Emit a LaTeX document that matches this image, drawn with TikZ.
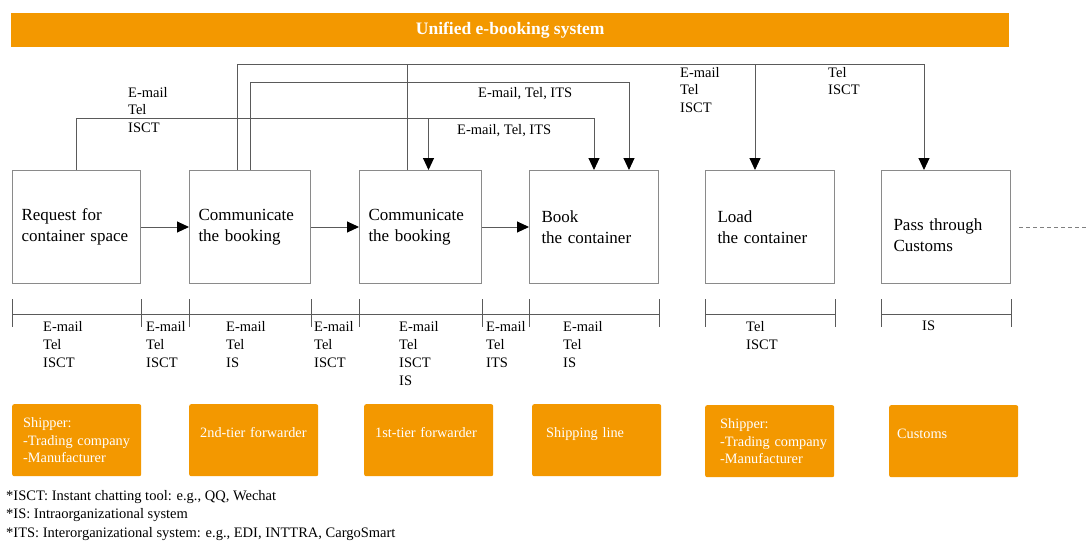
\documentclass[tikz,border=0pt]{standalone}
\usepackage{fontspec}
\setmainfont{Liberation Serif}
\usetikzlibrary{arrows.meta,positioning}
\definecolor{booking}{HTML}{F39800}
\definecolor{frame}{HTML}{8A8A8A}
\definecolor{wire}{HTML}{5A5A5A}

\begin{document}
\begin{tikzpicture}[x=1pt,y=-1pt,
    stage/.style={draw=frame, line width=1pt, align=left, inner xsep=9pt, text width=#1,
        minimum height=113pt, anchor=north west, font=\fontsize{17}{21}\selectfont},
    actor/.style={fill=booking, rounded corners=2pt, align=left, inner xsep=11pt, text width=107pt,
        minimum height=72pt, anchor=north west, text=white, font=\fontsize{14.3}{17.5}\selectfont},
    single/.style={text depth=15pt},
    media/.style={align=left, inner sep=0pt, anchor=north west, font=\fontsize{14.5}{18}\selectfont},
    flow/.style={draw=wire, line width=1pt, -{Triangle[length=12pt,width=11pt,color=black]}},
    link/.style={draw=wire, line width=1pt},
    tick/.style={draw=wire, line width=0.9pt}]
    \useasboundingbox (0,0) rectangle (1088,541);

    % banner
    \node[fill=booking, minimum width=998pt, minimum height=34pt, anchor=north west, text=white,
        font=\bfseries\fontsize{17.5}{21}\selectfont] (banner) at (11,13) {Unified e-booking system};

    % process steps
    \node[stage=110pt] (request) at (12,170) {Request for\\container space};
    \node[stage=103pt] (commA) at (189,170) {Communicate\\the booking};
    \node[stage=104pt] (commB) at (359,170) {Communicate\\the booking};
    \node[stage=105pt, inner xsep=12pt] (book) at (529,170) {Book\\the container};
    \node[stage=105pt, inner xsep=12pt] (load) at (705,170) {Load\\the container};
    \node[stage=105pt, inner xsep=12pt] (clear) at (881,170) {\rule{0pt}{28pt}Pass through\\Customs};

    \draw[flow] (request.east) -- (commA.west);
    \draw[flow] (commA.east) -- (commB.west);
    \draw[flow] (commB.east) -- (book.west);
    \coordinate (offpage) at (1088,223);
    \draw[link, draw=gray, dash pattern=on 4pt off 3pt] ([xshift=8pt]clear.east) -- (clear.east -| offpage);

    % channels above the steps
    \coordinate (laneA) at (0,64);
    \coordinate (laneB) at (0,82);
    \coordinate (laneC) at (0,118);
    \draw[flow] (request.north) |- (laneC -| book.north) -- (book.north);
    \draw[flow] ([xshift=8pt]commB.north |- laneC) -- ([xshift=8pt]commB.north);
    \draw[flow] (commA.north) |- ([xshift=35pt]book.north |- laneB) -- ([xshift=35pt]book.north);
    \draw[flow] ([xshift=-13pt]commA.north) |- ([xshift=-22pt]clear.north |- laneA) -- ([xshift=-22pt]clear.north);
    \draw[flow] ([xshift=-15pt]load.north |- laneA) -- ([xshift=-15pt]load.north);
    \draw[link] ([xshift=-13pt]commB.north) -- ([xshift=-13pt]commB.north |- laneA);

    \node[media, font=\fontsize{14.5}{17.5}\selectfont] (upA) at (128,87) {E-mail\\Tel\\ISCT};
    \node[media] (upB) at (478,87) {E-mail, Tel, ITS};
    \node[media] (upC) at (457,124) {E-mail, Tel, ITS};
    \node[media, font=\fontsize{14.5}{17.5}\selectfont] (upD) at (680,67) {E-mail\\Tel\\ISCT};
    \node[media, font=\fontsize{14.5}{17.5}\selectfont] (upE) at (828,67) {Tel\\ISCT};

    % brackets below the steps
    \foreach \b in {request,commA,commB,book,load,clear}{
        \draw[tick] (\b.west |- 0,299) -- (\b.west |- 0,327);
        \draw[tick] (\b.east |- 0,299) -- (\b.east |- 0,327);
    }
    \draw[tick] (request.west |- 0,314) -- (book.east |- 0,314);
    \draw[tick] (load.west |- 0,314) -- (load.east |- 0,314);
    \draw[tick] (clear.west |- 0,314) -- (clear.east |- 0,314);

    \node[media] (lowA) at (43,321) {E-mail\\Tel\\ISCT};
    \node[media] (lowB) at (146,321) {E-mail\\Tel\\ISCT};
    \node[media] (lowC) at (226,321) {E-mail\\Tel\\IS};
    \node[media] (lowD) at (314,321) {E-mail\\Tel\\ISCT};
    \node[media] (lowE) at (399,321) {E-mail\\Tel\\ISCT\\IS};
    \node[media] (lowF) at (486,321) {E-mail\\Tel\\ITS};
    \node[media] (lowG) at (563,321) {E-mail\\Tel\\IS};
    \node[media] (lowH) at (746,321) {Tel\\ISCT};
    \node[media] (lowI) at (922,321) {IS};

    % actors
    \node[actor] (shipperA) at (12,404) {Shipper:\\\mbox{-Trading company}\\-Manufacturer};
    \node[actor, single] (tierTwo) at (189,404) {2nd-tier forwarder};
    \node[actor, single] (tierOne) at (364,404) {1st-tier forwarder};
    \node[actor, single, inner xsep=14pt, text width=101pt] (carrier) at (532,404) {Shipping line};
    \node[actor, inner xsep=15pt, text width=99pt] (shipperB) at (705,405) {Shipper:\\\mbox{-Trading company}\\-Manufacturer};
    \node[actor, single, inner xsep=8pt, text width=113pt] (officer) at (889,405) {Customs};

    % legend
    \node[media, font=\fontsize{14.5}{18.5}\selectfont] (legend) at (6,490)
        {*ISCT: Instant chatting tool: e.g., QQ, Wechat\\*IS: Intraorganizational system\\*ITS: Interorganizational system: e.g., EDI, INTTRA, CargoSmart};
\end{tikzpicture}
\end{document}
